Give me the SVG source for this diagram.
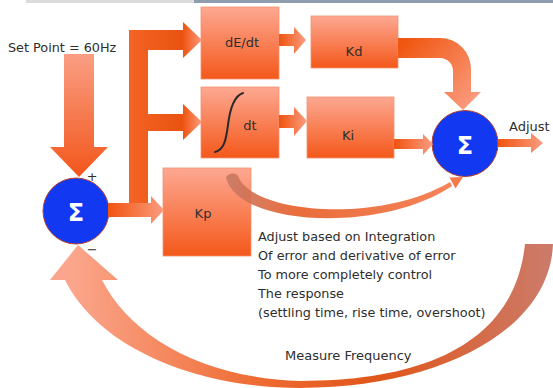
<svg xmlns="http://www.w3.org/2000/svg" width="553" height="388" viewBox="0 0 553 388">
<defs>
<style>
.box{fill:url(#boxGrad);stroke:#f39272;stroke-width:0.8}
.lbl{font-family:"DejaVu Sans","Liberation Sans",sans-serif;font-size:13px;fill:#2e2e2e}
.sum{fill:#1238f2;stroke:#b8402a;stroke-width:1}
.sig{font-family:"DejaVu Sans","Liberation Sans",sans-serif;font-size:24px;font-weight:bold;fill:#ffffff}
.ah{fill:url(#arrowH)}
.note{font-family:"DejaVu Sans","Liberation Sans",sans-serif;font-size:12.8px;fill:#2e2e2e}
</style>
<linearGradient id="boxGrad" x1="0" y1="0" x2="0" y2="1">
<stop offset="0" stop-color="#fda892"/>
<stop offset="1" stop-color="#f4581a"/>
</linearGradient>
<linearGradient id="arrowH" x1="0" y1="0" x2="1" y2="0">
<stop offset="0" stop-color="#f0540f"/>
<stop offset="1" stop-color="#fb9c80"/>
</linearGradient>
<linearGradient id="arrowV" x1="0" y1="0" x2="0" y2="1">
<stop offset="0" stop-color="#fa9e84"/>
<stop offset="1" stop-color="#f2561a"/>
</linearGradient>
<linearGradient id="busGrad" x1="0" y1="0" x2="1" y2="0">
<stop offset="0" stop-color="#f46426"/>
<stop offset="1" stop-color="#e8520f"/>
</linearGradient>
<linearGradient id="kdGrad" gradientUnits="userSpaceOnUse" x1="398" y1="48" x2="470" y2="110">
<stop offset="0" stop-color="#f0560f"/>
<stop offset="1" stop-color="#fa9c80"/>
</linearGradient>
<linearGradient id="fbGrad" gradientUnits="userSpaceOnUse" x1="545" y1="250" x2="70" y2="260">
<stop offset="0" stop-color="#cc7a68"/>
<stop offset="0.35" stop-color="#e0561a"/>
<stop offset="0.6" stop-color="#ee6a30"/>
<stop offset="1" stop-color="#fba68c"/>
</linearGradient>
<linearGradient id="kpGrad" gradientUnits="userSpaceOnUse" x1="228" y1="178" x2="460" y2="180">
<stop offset="0" stop-color="#c87a66"/>
<stop offset="0.3" stop-color="#e8602a"/>
<stop offset="1" stop-color="#f57a4c"/>
</linearGradient>
</defs>

<rect x="26" y="0" width="168" height="3" fill="#dcdcdc"/>
<rect x="194" y="0" width="359" height="3" fill="#8e9eae"/>

<g id="sum1">
<circle class="sum" cx="76" cy="211" r="33"/>
<text class="sig" x="76" y="221" text-anchor="middle">Σ</text>
</g>
<g id="deriv">
<rect class="box" x="201" y="7" width="78" height="72"/>
<text class="lbl" x="242" y="47" text-anchor="middle">dE/dt</text>
</g>
<g id="integ">
<rect class="box" x="201" y="87" width="78" height="71"/>
<path d="M215,152 C224,150 226,140 228,125 C230,108 234,96 243,93" fill="none" stroke="#2a2a2a" stroke-width="2" stroke-linecap="round"/>
<text class="lbl" x="250" y="130" text-anchor="middle">dt</text>
</g>
<g id="kd">
<rect class="box" x="311" y="16" width="87" height="52"/>
<text class="lbl" x="354" y="56" text-anchor="middle">Kd</text>
</g>
<g id="ki">
<rect class="box" x="307" y="97" width="87" height="61"/>
<text class="lbl" x="348" y="140" text-anchor="middle">Ki</text>
</g>
<g id="kp">
<rect class="box" x="163" y="168" width="88" height="88"/>
<text class="lbl" x="203" y="218" text-anchor="middle">Kp</text>
</g>
<g id="sum2">
<circle class="sum" cx="465" cy="143.5" r="33"/>
<text class="sig" x="465" y="154" text-anchor="middle">Σ</text>
</g>

<g id="connectors">
<!-- set point arrow -->
<path d="M64,54 H94 V147 H108 L79,177 L50,147 H64 Z" fill="url(#arrowV)"/>
<!-- bus -->
<path d="M129,30 H184 V50 H148 V114 H184 V131 H148 V203 H129 Z" fill="url(#busGrad)"/>
<path d="M183,22 L202,40 L183,58 Z" class="ah"/>
<path d="M183,104 L202,122 L183,140 Z" class="ah"/>
<!-- sum1 to Kp -->
<path d="M108,203 H151 V196 L164,210 L151,224 V217 H108 Z" class="ah"/>
<!-- dE/dt to Kd -->
<path d="M279,34 H294 V27 L306,40 L294,54 V46 H279 Z" class="ah"/>
<!-- integral to Ki -->
<path d="M279,115 H294 V107 L307,121 L294,136 V128 H279 Z" class="ah"/>
<!-- Ki to sum2 -->
<path d="M394,139 H423 V134 L433,144 L423,155 V149 H394 Z" class="ah"/>
<!-- sum2 to adjust -->
<path d="M498,139 H531 V133 L543,143 L531,153 V147 H498 Z" class="ah"/>
<!-- Kd to sum2 curved -->
<path d="M398,38 H440 A31,31 0 0 1 471,69 V92 H481 L463,110 L444,92 H453 V71 A13,13 0 0 0 440,58 H398 Z" fill="url(#kdGrad)"/>
<!-- Kp to sum2 thin curve -->
<path d="M226,178 C238,226 380,234 452,186 L450,182 C380,224 252,214 238,176 C236,172 227,173 226,178 Z" fill="url(#kpGrad)" opacity="0.92"/>
<path d="M463,177 L455.5,188.5 L449.5,177.5 Z" fill="#f57a4c"/>
<!-- feedback arrow -->
<path d="M553,244 C550,330 440,388 300,388 C200,388 100,350 65,280 H50 L78,245 L118,280 H102 C130,335 200,378 300,381 C430,381 515,340 525,244 Z" fill="url(#fbGrad)"/>
</g>

<g id="labels">
<text class="note" x="8" y="52" font-size="12.6">Set Point = 60Hz</text>
<text class="note" x="92" y="181" text-anchor="middle">+</text>
<text class="note" x="92" y="254" text-anchor="middle">−</text>
<text class="lbl" x="509" y="131">Adjust</text>
<text class="note" x="258" y="241">Adjust based on Integration</text>
<text class="note" x="258" y="260">Of error and derivative of error</text>
<text class="note" x="258" y="279">To more completely control</text>
<text class="note" x="258" y="298">The response</text>
<text class="note" x="258" y="317">(settling time, rise time, overshoot)</text>
<text class="lbl" x="285" y="360">Measure Frequency</text>
</g>
</svg>
